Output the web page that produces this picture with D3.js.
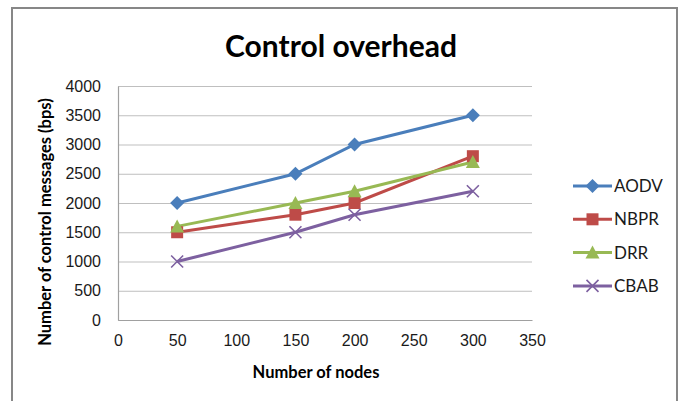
<!DOCTYPE html>
<html>
<head>
<meta charset="utf-8">
<script src="https://cdn.jsdelivr.net/npm/d3@7"></script>
<style>
  body { margin: 0; background: #fff; }
  svg { display: block; font-family: Lato, "Open Sans", sans-serif; }
</style>
</head>
<body>
<svg id="grafico" width="681" height="401"></svg>
<script>
// dados
const nos = [50, 150, 200, 300];
const aodv = [2000, 2500, 3000, 3500];
const nbpr = [1500, 1800, 2000, 2800];
const drr  = [1600, 2000, 2200, 2700];
const cbab = [1000, 1500, 1800, 2200];
const nomes = ["AODV", "NBPR", "DRR", "CBAB"];
const xTicks = [0, 50, 100, 150, 200, 250, 300, 350];
const yTicks = [0, 500, 1000, 1500, 2000, 2500, 3000, 3500, 4000];

const series = [aodv, nbpr, drr, cbab].map((v, i) => ({
    nome: nomes[i],
    pontos: nos.map((n, j) => ({ x: n, y: v[j] }))
}));

const cores = ["#4a7ebb", "#be4b48", "#98b954", "#7d60a0"];
const simbolos = ["diamante", "quadrado", "triangulo", "x"];

const svg = d3.select("#grafico");

// moldura
svg.append("rect")
    .attr("x", 12).attr("y", 8)
    .attr("width", 665).attr("height", 410)
    .attr("fill", "#fff")
    .attr("stroke", "#878787")
    .attr("stroke-width", 2);

const x = d3.scaleLinear().domain([0, 350]).range([118, 532]);
const y = d3.scaleLinear().domain([0, 4000]).range([320, 86]);

// grade
svg.append("g")
    .selectAll("line")
    .data(yTicks)
    .join("line")
    .attr("x1", x(0)).attr("x2", x(350))
    .attr("y1", d => y(d) + 0.5).attr("y2", d => y(d) + 0.5)
    .attr("stroke", "#bfbfbf")
    .attr("stroke-width", 1);

// eixos
const eixoY = svg.append("g")
    .attr("transform", `translate(${x(0)},0)`)
    .call(d3.axisLeft(y).tickValues(yTicks).tickFormat(d3.format("d")).tickSize(0).tickPadding(17));
const eixoX = svg.append("g")
    .attr("transform", `translate(0,${y(0)})`)
    .call(d3.axisBottom(x).tickValues(xTicks).tickFormat(d3.format("d")).tickSize(0).tickPadding(15));

[eixoY, eixoX].forEach(e => {
    e.select(".domain").attr("stroke", "#a0a0a0").attr("stroke-width", 1.2);
    e.selectAll("text").attr("font-size", 16).attr("fill", "#1a1a1a");
});

// linhas
const linha = d3.line().x(d => x(d.x)).y(d => y(d.y));

series.forEach((s, i) => {
    svg.append("path")
        .datum(s.pontos)
        .attr("d", linha)
        .attr("fill", "none")
        .attr("stroke", cores[i])
        .attr("stroke-width", 3);
});

function marcador(g, tipo, cor, cx, cy) {
    if (tipo === "diamante") {
        g.append("path")
            .attr("d", `M${cx},${cy - 7}L${cx + 7},${cy}L${cx},${cy + 7}L${cx - 7},${cy}Z`)
            .attr("fill", cor);
    } else if (tipo === "quadrado") {
        g.append("rect")
            .attr("x", cx - 6).attr("y", cy - 6)
            .attr("width", 12).attr("height", 12)
            .attr("fill", cor);
    } else if (tipo === "triangulo") {
        g.append("path")
            .attr("d", `M${cx},${cy - 7}L${cx + 7},${cy + 6}L${cx - 7},${cy + 6}Z`)
            .attr("fill", cor);
    } else {
        g.append("path")
            .attr("d", `M${cx - 6},${cy - 6}L${cx + 6},${cy + 6}M${cx - 6},${cy + 6}L${cx + 6},${cy - 6}`)
            .attr("stroke", cor)
            .attr("stroke-width", 1.6);
    }
}

series.forEach((s, i) => {
    const g = svg.append("g");
    s.pontos.forEach(p => marcador(g, simbolos[i], cores[i], x(p.x), y(p.y)));
});

// legenda
const legenda = svg.append("g");
nomes.forEach((n, i) => {
    const ly = 186 + i * 33.3;
    legenda.append("line")
        .attr("x1", 573).attr("x2", 612)
        .attr("y1", ly).attr("y2", ly)
        .attr("stroke", cores[i])
        .attr("stroke-width", 3);
    marcador(legenda, simbolos[i], cores[i], 592.5, ly);
    legenda.append("text")
        .attr("x", 614).attr("y", ly)
        .attr("dy", "0.35em")
        .attr("font-size", 17)
        .attr("fill", "#1a1a1a")
        .text(n);
});

// títulos
svg.append("text")
    .attr("x", 341).attr("y", 57)
    .attr("text-anchor", "middle")
    .attr("font-size", 30)
    .attr("font-weight", "bold")
    .text("Control overhead");

svg.append("text")
    .attr("x", 316).attr("y", 378)
    .attr("text-anchor", "middle")
    .attr("font-size", 16.5)
    .attr("font-weight", "bold")
    .text("Number of nodes");

svg.append("text")
    .attr("transform", "translate(51,222) rotate(-90)")
    .attr("text-anchor", "middle")
    .attr("font-size", 16.5)
    .attr("font-weight", "bold")
    .text("Number of control messages (bps)");
</script>
</body>
</html>
